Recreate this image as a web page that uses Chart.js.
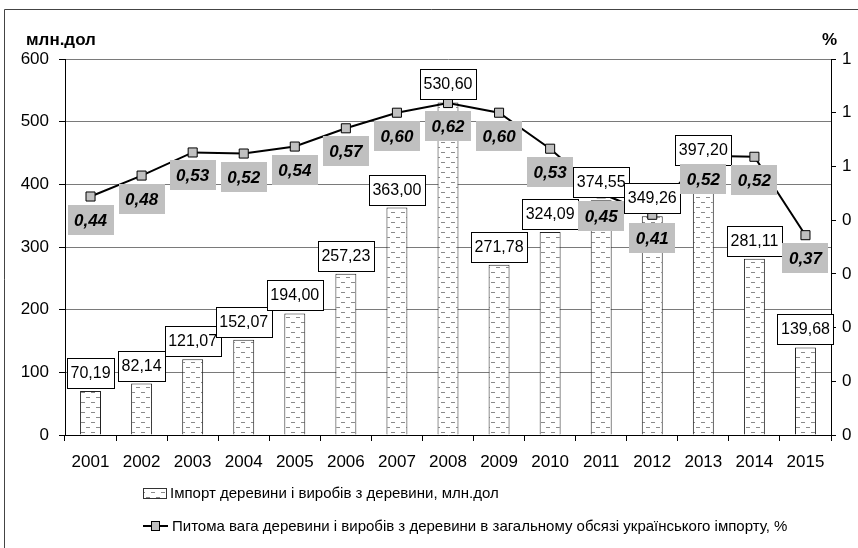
<!DOCTYPE html>
<html><head><meta charset="utf-8">
<script src="https://cdn.jsdelivr.net/npm/chart.js@4"></script>
<style>html,body{margin:0;padding:0;background:#fff;}#wrap{width:858px;height:548px;position:relative;}</style>
</head><body><div id="wrap"><canvas id="c" width="858" height="548"></canvas></div>
<script>
const years = ['2001','2002','2003','2004','2005','2006','2007','2008','2009','2010','2011','2012','2013','2014','2015'];
const importValues = [70.19, 82.14, 121.07, 152.07, 194.00, 257.23, 363.00, 530.60, 271.78, 324.09, 374.55, 349.26, 397.20, 281.11, 139.68];
const shareValues = [0.444, 0.483, 0.526, 0.524, 0.537, 0.571, 0.600, 0.618, 0.600, 0.533, 0.45, 0.41, 0.52, 0.518, 0.372];
const leftTicks = [0, 100, 200, 300, 400, 500, 600];
const rightTicks = [0, 0.1, 0.2, 0.3, 0.4, 0.5, 0.6, 0.7];
const seriesNames = ['Імпорт деревини і виробів з деревини, млн.дол', 'Питома вага деревини і виробів з деревини в загальному обсязі українського імпорту, %'];
const axisTitles = ['млн.дол', '%'];

const FONT = '"Liberation Sans", Arial, sans-serif';
const barLabelShift = {12: -18};

function makePattern(){
  const p = document.createElement('canvas'); p.width = 10; p.height = 10;
  const g = p.getContext('2d');
  g.fillStyle = '#fff'; g.fillRect(0,0,10,10);
  g.fillStyle = '#8a8a8a';
  g.fillRect(1,2,4,1); g.fillRect(6,7,4,1);
  return g.createPattern(p, 'repeat');
}
const pattern = makePattern();
const fmt = v => v.toFixed(2).replace('.', ',');

const decorPlugin = {
  id: 'decor',
  beforeDraw(chart){
    const c = chart.ctx;
    c.save();
    c.strokeStyle = '#444'; c.lineWidth = 1;
    c.beginPath(); c.moveTo(4.5, 560); c.lineTo(4.5, 9.5); c.lineTo(860, 9.5); c.stroke();
    c.fillStyle = '#000';
    c.font = 'bold 17px ' + FONT;
    c.textBaseline = 'middle';
    c.textAlign = 'left'; c.fillText(axisTitles[0], 26, 40);
    c.textAlign = 'left'; c.fillText(axisTitles[1], 822, 40);
    c.restore();
  },
  afterDatasetsDraw(chart){
    const c = chart.ctx;
    const barMeta = chart.getDatasetMeta(0);
    const lineMeta = chart.getDatasetMeta(1);
    c.save();
    c.textAlign = 'center'; c.textBaseline = 'middle';
    c.font = '16px ' + FONT;
    barMeta.data.forEach((el, i) => {
      const txt = fmt(importValues[i]);
      const w = Math.round(c.measureText(txt).width + 7);
      const h = 30;
      const bottom = Math.round(el.y - 3 + (barLabelShift[i] || 0));
      const x0 = Math.round(el.x - w/2) + 0.5, y0 = bottom - h + 0.5;
      c.fillStyle = '#fff'; c.fillRect(x0, y0, w, h);
      c.strokeStyle = '#000'; c.lineWidth = 1; c.strokeRect(x0, y0, w, h);
      c.fillStyle = '#000'; c.fillText(txt, el.x, bottom - h/2 + 1);
    });
    c.font = 'italic bold 17px ' + FONT;
    lineMeta.data.forEach((el, i) => {
      const txt = fmt(shareValues[i]);
      const w = Math.round(c.measureText(txt).width + 13);
      const h = 30;
      const top = Math.round(el.y + 8);
      const x0 = Math.round(el.x - w/2);
      c.fillStyle = '#c0c0c0'; c.fillRect(x0, top, w, h);
      c.fillStyle = '#000'; c.fillText(txt, el.x, top + h/2 + 1);
    });
    c.restore();
  },
  afterDraw(chart){
    const c = chart.ctx;
    c.save();
    c.fillStyle = pattern; c.fillRect(143, 488, 23, 10);
    c.strokeStyle = '#333'; c.lineWidth = 1; c.strokeRect(143.5, 488.5, 23, 10);
    c.font = '15px ' + FONT; c.fillStyle = '#000'; c.textBaseline = 'middle'; c.textAlign = 'left';
    c.fillText(seriesNames[0], 170, 494);
    c.strokeStyle = '#000'; c.lineWidth = 2;
    c.beginPath(); c.moveTo(143, 526); c.lineTo(168, 526); c.stroke();
    c.fillStyle = '#c0c0c0'; c.lineWidth = 1;
    c.fillRect(151, 522, 9, 9); c.strokeRect(151.5, 521.5, 8, 9);
    c.fillStyle = '#000';
    c.fillText(seriesNames[1], 172, 527);
    c.restore();
  }
};

new Chart(document.getElementById('c'), {
  type: 'bar',
  data: {
    labels: years,
    datasets: [
      { type: 'bar', label: seriesNames[0], data: importValues, yAxisID: 'y',
        backgroundColor: pattern, borderColor: '#222', borderWidth: 1,
        barPercentage: 0.41, categoryPercentage: 1, order: 1 },
      { type: 'line', label: seriesNames[1], data: shareValues, yAxisID: 'y1',
        borderColor: '#000', borderWidth: 2, pointStyle: 'rect', pointRadius: 6.4,
        pointBackgroundColor: '#c0c0c0', pointBorderColor: '#000', pointBorderWidth: 1,
        tension: 0, fill: false, order: 0 }
    ]
  },
  options: {
    responsive: false, animation: false, devicePixelRatio: 1,
    layout: { padding: { top: 59, bottom: 73, left: 0, right: 0 } },
    plugins: { legend: { display: false }, tooltip: { enabled: false } },
    scales: {
      x: {
        offset: true,
        grid: { offset: true, drawOnChartArea: false, color: '#000', tickLength: 6 },
        border: { color: '#000' },
        ticks: { color: '#000', font: { family: FONT, size: 17 }, padding: 11, maxRotation: 0 },
        afterFit: s => { s.height = 40; }
      },
      y: {
        position: 'left', min: leftTicks[0], max: leftTicks[leftTicks.length-1],
        afterBuildTicks: s => { s.ticks = leftTicks.map(v => ({ value: v })); },
        grid: { color: '#7a7a7a', tickColor: '#000', tickLength: 6 },
        border: { color: '#000' },
        ticks: { color: '#000', font: { family: FONT, size: 17 }, padding: 10, callback: v => String(v) },
        afterFit: s => { s.width = 65; }
      },
      y1: {
        position: 'right', min: rightTicks[0], max: rightTicks[rightTicks.length-1],
        afterBuildTicks: s => { s.ticks = rightTicks.map(v => ({ value: v })); },
        grid: { drawOnChartArea: false, tickColor: '#000', tickLength: 5 },
        border: { color: '#000' },
        ticks: { color: '#000', font: { family: FONT, size: 17 }, padding: 6, callback: v => String(Math.round(v)) },
        afterFit: s => { s.width = 27; }
      }
    }
  },
  plugins: [decorPlugin]
});
</script>
</body></html>
